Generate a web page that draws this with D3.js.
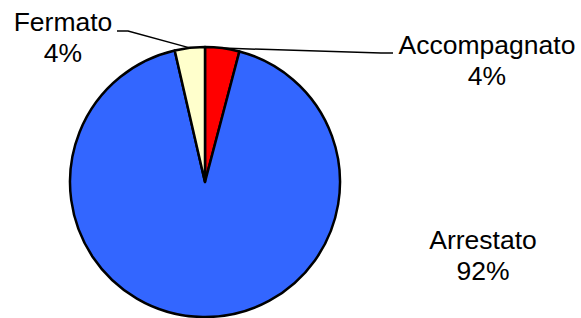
<!DOCTYPE html>
<html>
<head>
<meta charset="utf-8">
<script src="https://cdn.jsdelivr.net/npm/d3@7"></script>
<style>
  body { margin: 0; background: #fff; }
  svg { display: block; }
</style>
</head>
<body>
<script>
const width = 581;
const height = 318;

// data (pie starts at 12 o'clock, clockwise)
const categories = ['Accompagnato', 'Arrestato', 'Fermato'];
const values = [4.1, 92.3, 3.6];
const colors = ['#FF0000', '#3366FF', '#FFFFCC'];

const cx = 205, cy = 182, radius = 135;

// label anchors (centre x, first baseline) and leader elbows
const labelPos = [
  {x: 487, y: 54, elbow: [381, 53], end: [393, 53]},
  {x: 483, y: 249, elbow: null, end: null},
  {x: 63, y: 31, elbow: [128, 31], end: [117, 31]}
];

const total = d3.sum(values);

const pie = d3.pie().sort(null).value(d => d);
const arcs = pie(values);

const arc = d3.arc().innerRadius(0).outerRadius(radius);

const svg = d3.select('body').append('svg')
  .attr('width', width)
  .attr('height', height);

const g = svg.append('g').attr('transform', `translate(${cx},${cy})`);

g.selectAll('path')
  .data(arcs)
  .join('path')
  .attr('d', arc)
  .attr('fill', (d, i) => colors[i])
  .attr('stroke', '#000')
  .attr('stroke-width', 2.5)
  .attr('stroke-linejoin', 'round');

// leader lines
arcs.forEach((d, i) => {
  const lp = labelPos[i];
  if (!lp.elbow) return;
  const mid = (d.startAngle + d.endAngle) / 2;
  const px = cx + Math.sin(mid) * radius;
  const py = cy - Math.cos(mid) * radius;
  svg.append('polyline')
    .attr('points', [[px, py], lp.elbow, lp.end].map(p => p.join(',')).join(' '))
    .attr('fill', 'none')
    .attr('stroke', '#000')
    .attr('stroke-width', 1.5);
});

// labels
const labels = svg.append('g')
  .attr('font-family', 'Liberation Sans, Arial, sans-serif')
  .attr('font-size', '26.5px')
  .attr('fill', '#000')
  .attr('text-anchor', 'middle');

categories.forEach((c, i) => {
  const lp = labelPos[i];
  const t = labels.append('text').attr('x', lp.x).attr('y', lp.y);
  t.append('tspan').attr('x', lp.x).text(c);
  t.append('tspan').attr('x', lp.x).attr('dy', 30.5)
    .text(d3.format('.0f')(values[i] / total * 100) + '%');
});
</script>
</body>
</html>
